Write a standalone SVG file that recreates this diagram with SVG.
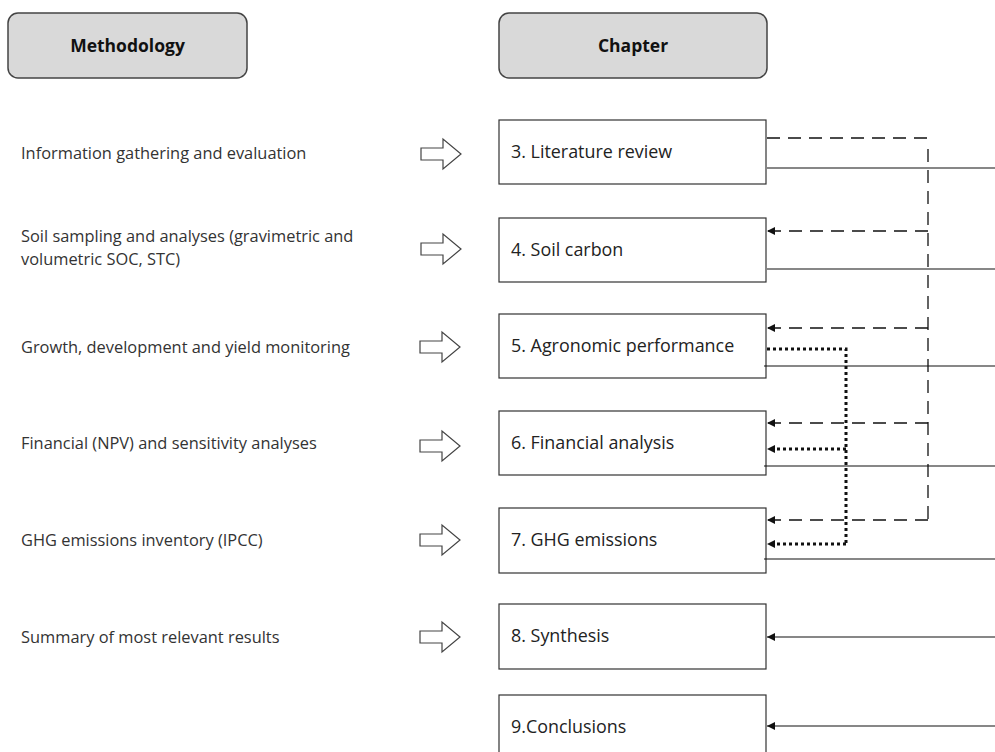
<svg xmlns="http://www.w3.org/2000/svg" width="995" height="752" viewBox="0 0 995 752">
<defs>
<style>
.hdr{fill:#d9d9d9;stroke:#444;stroke-width:1.5}
.hdrt{font-family:"Open Sans","Liberation Sans",sans-serif;font-weight:bold;font-size:17.5px;fill:#111;text-anchor:middle}
.box{fill:#fff;stroke:#333;stroke-width:1.2}
.bt{font-family:"Open Sans","Liberation Sans",sans-serif;font-size:17.9px;fill:#222}
.mt{font-family:"Open Sans","Liberation Sans",sans-serif;font-size:16.4px;fill:#333}
.harrow{fill:#fff;stroke:#444;stroke-width:1.2}
.solid{fill:none;stroke:#111;stroke-width:1.2}
.dash{fill:none;stroke:#111;stroke-width:1.3;stroke-dasharray:13 8}
.dot{fill:none;stroke:#111;stroke-width:3;stroke-dasharray:3 3}
</style>
<marker id="ah" viewBox="0 0 10 10" refX="10" refY="5" markerWidth="8" markerHeight="8" markerUnits="userSpaceOnUse" orient="auto">
<path d="M0,0 L10,5 L0,10 z" fill="#111"/>
</marker>
<path id="hollow" d="M0,-6 L22,-6 L22,-15 L40,0 L22,15 L22,6 L0,6 z"/>
</defs>

<g id="header-methodology">
<rect class="hdr" x="8" y="13" width="239" height="65" rx="10"/>
<text class="hdrt" x="127.5" y="52">Methodology</text>
</g>
<g id="header-chapter">
<rect class="hdr" x="499" y="13" width="268" height="65" rx="10"/>
<text class="hdrt" x="633" y="52">Chapter</text>
</g>

<g id="method-3"><text class="mt" x="21" y="159">Information gathering and evaluation</text></g>
<g id="method-4"><text class="mt" x="21" y="242">Soil sampling and analyses (gravimetric and</text><text class="mt" x="21" y="265">volumetric SOC, STC)</text></g>
<g id="method-5"><text class="mt" x="21" y="353">Growth, development and yield monitoring</text></g>
<g id="method-6"><text class="mt" x="21" y="449">Financial (NPV) and sensitivity analyses</text></g>
<g id="method-7"><text class="mt" x="21" y="546">GHG emissions inventory (IPCC)</text></g>
<g id="method-8"><text class="mt" x="21" y="643">Summary of most relevant results</text></g>

<g id="hollow-arrows">
<use href="#hollow" class="harrow" transform="translate(421,154)"/>
<use href="#hollow" class="harrow" transform="translate(421,249)"/>
<use href="#hollow" class="harrow" transform="translate(420,347)"/>
<use href="#hollow" class="harrow" transform="translate(420,446)"/>
<use href="#hollow" class="harrow" transform="translate(420,540)"/>
<use href="#hollow" class="harrow" transform="translate(420,637)"/>
</g>

<g id="ch3"><rect class="box" x="499" y="120" width="267" height="64"/><text class="bt" x="511" y="158">3. Literature review</text></g>
<g id="ch4"><rect class="box" x="499" y="218" width="267" height="64"/><text class="bt" x="511" y="256">4. Soil carbon</text></g>
<g id="ch5"><rect class="box" x="499" y="314" width="267" height="64"/><text class="bt" x="511" y="352">5. Agronomic performance</text></g>
<g id="ch6"><rect class="box" x="499" y="411" width="267" height="64"/><text class="bt" x="511" y="449">6. Financial analysis</text></g>
<g id="ch7"><rect class="box" x="499" y="508" width="267" height="65"/><text class="bt" x="511" y="546">7. GHG emissions</text></g>
<g id="ch8"><rect class="box" x="499" y="604" width="267" height="65"/><text class="bt" x="511" y="642">8. Synthesis</text></g>
<g id="ch9"><rect class="box" x="499" y="695" width="267" height="70"/><text class="bt" x="511" y="733">9.Conclusions</text></g>

<g id="connectors">
<path class="solid" d="M767,168 H995"/>
<path class="solid" d="M767,269 H995"/>
<path class="solid" d="M764,366 H995"/>
<path class="solid" d="M764,466 H995"/>
<path class="solid" d="M764,559 H995"/>
<path class="solid" d="M995,637 H767" marker-end="url(#ah)"/>
<path class="solid" d="M995,726 H767" marker-end="url(#ah)"/>

<path class="dash" d="M767,138 H928"/>
<path class="dash" d="M928,149 V520"/>
<path class="dash" d="M928,231 H767" marker-end="url(#ah)"/>
<path class="dash" d="M928,328 H767" marker-end="url(#ah)"/>
<path class="dash" d="M928,423 H767" marker-end="url(#ah)"/>
<path class="dash" d="M928,520 H767" marker-end="url(#ah)"/>

<path class="dot" d="M767,349 H846 V544"/>
<path class="dot" d="M846,449 H772"/>
<path class="dot" d="M846,544 H772"/>
<path d="M767,449 l8,-4 v8 z M767,544 l8,-4 v8 z" fill="#111"/>
</g>
</svg>
